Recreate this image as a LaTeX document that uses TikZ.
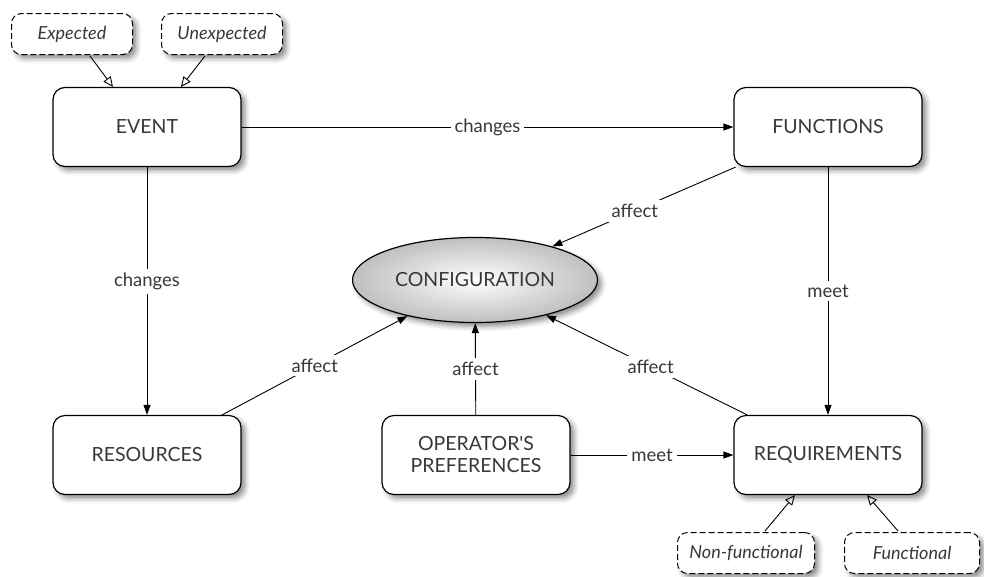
\documentclass[tikz,border=0pt]{standalone}
\usepackage{fontspec}
\setmainfont{Lato}
\usetikzlibrary{arrows.meta,shapes.geometric,shadows.blur}

\begin{document}
\begin{tikzpicture}[x=1pt,y=-1pt,
  txt/.style={text=black!78},
  shade/.style={blur shadow={shadow xshift=4pt, shadow yshift=-4pt,
      shadow blur radius=5pt, shadow opacity=45}},
  box/.style={txt, shade, draw, line width=1.2pt, rounded corners=12pt, fill=white,
      minimum width=188pt, minimum height=79pt, align=center,
      font=\fontsize{19.5}{22}\selectfont},
  tag/.style={txt, shade, draw, dashed, dash pattern=on 6pt off 3pt, line width=1pt,
      rounded corners=10pt, fill=white, minimum width=121pt, minimum height=41pt,
      inner xsep=4pt, font=\fontsize{18}{21}\selectfont\itshape},
  hub/.style={txt, shade, draw, line width=1.2pt, ellipse, inner sep=0pt,
      minimum width=245pt, minimum height=85pt, shading=radial,
      inner color=white, outer color=black!25,
      font=\fontsize{19.5}{22}\selectfont},
  conn/.style={line width=0.9pt, -{Triangle[length=10pt,width=7pt]}},
  kind/.style={line width=0.9pt, -{Triangle[open,length=10pt,width=9pt]}},
  lbl/.style={txt, fill=white, inner sep=4pt, font=\fontsize{18.5}{21}\selectfont}]

  \useasboundingbox (0,0) rectangle (984,576);

  % nodes
  \node[tag] (expected) at (72,34) {Expected};
  \node[tag] (unexpected) at (222,34) {Unexpected};
  \node[box] (event) at (147,127) {EVENT};
  \node[box] (functions) at (828,127) {FUNCTIONS};
  \node[hub] (config) at (475,280) {CONFIGURATION};
  \node[box] (resources) at (147,455) {RESOURCES};
  \node[box] (operator) at (476,455) {OPERATOR\textquotesingle S\\PREFERENCES};
  \node[box] (requirements) at (828,455) {REQUIREMENTS};
  \node[tag, minimum width=137pt] (nonfunc) at (746,553) {Non-functional};
  \node[tag, minimum width=135pt] (func) at (912,553) {Functional};

  % kinds
  \draw[kind] (expected.south) ++(18,1) coordinate (e1) -- (event.north -| 113,0);
  \draw[kind] (unexpected.south) ++(-17,1) coordinate (u1) -- (event.north -| 181,0);
  \draw[kind] (nonfunc.north) ++(19,-1) coordinate (n1) -- (requirements.south -| 795,0);
  \draw[kind] (func.north) ++(-14,-1) coordinate (f1) -- (requirements.south -| 867,0);

  % relations
  \draw[conn] (event) -- node[lbl]{changes} (functions);
  \draw[conn] (event) -- node[lbl, pos=0.46]{changes} (resources);
  \draw[conn] (functions) -- node[lbl, pos=0.55]{affect} (config);
  \draw[conn] (functions) -- node[lbl, pos=0.5]{meet} (requirements);
  \draw[conn] (resources) -- node[lbl, pos=0.5]{affect} (config);
  \draw[conn] (operator) -- node[lbl, pos=0.5]{affect} (config);
  \draw[conn] (requirements) -- node[lbl, pos=0.48]{affect} (config);
  \draw[conn] (operator) -- node[lbl]{meet} (requirements);
\end{tikzpicture}
\end{document}
